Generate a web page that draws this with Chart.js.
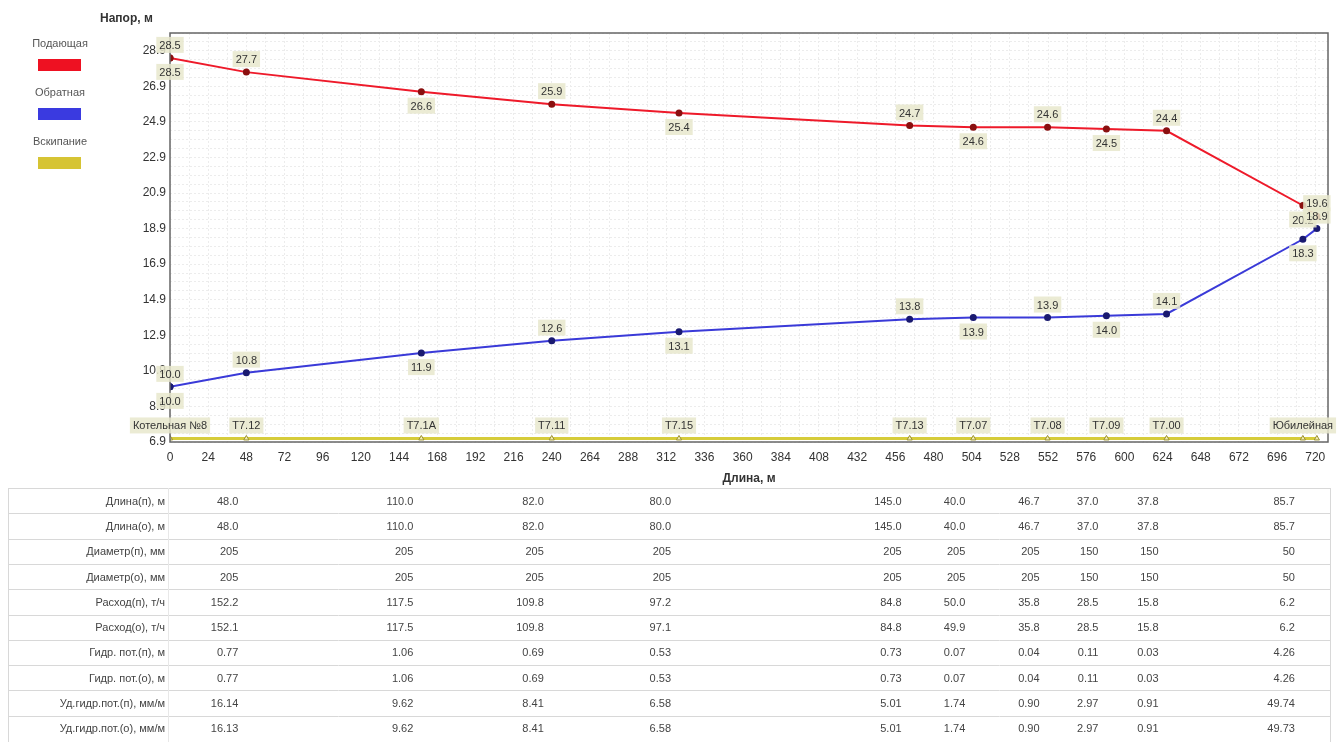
<!DOCTYPE html>
<html>
<head>
<meta charset="utf-8">
<script src="https://cdn.jsdelivr.net/npm/chart.js@4/dist/chart.umd.min.js"></script>
<style>
  body { margin: 0; background: #fff; }
  #wrap { position: relative; width: 1341px; height: 742px; }
  .lg { position: absolute; left: 15px; width: 90px; text-align: center; font: 11px "Liberation Sans", sans-serif; color: #555; }
  .sw { position: absolute; left: 38px; width: 43px; height: 12px; }
  #ytitle { position: absolute; left: 100px; top: 11px; font: bold 12px "Liberation Sans", sans-serif; color: #333; }
</style>
</head>
<body>
<div id="wrap">
  <canvas id="profileChart" width="1341" height="742"></canvas>
  <div id="ytitle">Напор, м</div>
  <div class="lg" style="top:37px">Подающая</div>
  <div class="sw" style="top:59px;background:#ee1122"></div>
  <div class="lg" style="top:86px">Обратная</div>
  <div class="sw" style="top:108px;background:#3a3ae0"></div>
  <div class="lg" style="top:135px">Вскипание</div>
  <div class="sw" style="top:157px;background:#d6c434"></div>
</div>
<script>
// pipe nodes, m (the boiler node appears twice: in and out)
const pointX = [0, 0, 48, 158, 240, 320, 465, 505, 551.7, 588.7, 626.5, 712.2, 721];
const supplyHead = [28.5, 28.5, 27.7, 26.6, 25.9, 25.4, 24.7, 24.6, 24.6, 24.5, 24.4, 20.2, 19.6];
const returnHead = [10.0, 10.0, 10.8, 11.9, 12.6, 13.1, 13.8, 13.9, 13.9, 14.0, 14.1, 18.3, 18.9];

const nodeX = [0, 48, 158, 240, 320, 465, 505, 551.7, 588.7, 626.5, 712.2, 721];
const boilHead = [7.1, 7.1, 7.1, 7.1, 7.1, 7.1, 7.1, 7.1, 7.1, 7.1, 7.1, 7.1];
const nodeNames = ['Котельная №8', 'Т7.12', 'Т7.1А', 'Т7.11', 'Т7.15', 'Т7.13', 'Т7.07', 'Т7.08', 'Т7.09', 'Т7.00', 'Юбилейная'];

const xTicks = [0, 24, 48, 72, 96, 120, 144, 168, 192, 216, 240, 264, 288, 312, 336, 360, 384, 408, 432, 456, 480, 504, 528, 552, 576, 600, 624, 648, 672, 696, 720];
const yTicks = [6.9, 8.9, 10.9, 12.9, 14.9, 16.9, 18.9, 20.9, 22.9, 24.9, 26.9, 28.9];

// table under the chart, one value per pipe segment
const rowNames = ['Длина(п), м', 'Длина(о), м', 'Диаметр(п), мм', 'Диаметр(о), мм', 'Расход(п), т/ч', 'Расход(о), т/ч',
  'Гидр. пот.(п), м', 'Гидр. пот.(о), м', 'Уд.гидр.пот.(п), мм/м', 'Уд.гидр.пот.(о), мм/м'];
const lengthS = ['48.0', '110.0', '82.0', '80.0', '145.0', '40.0', '46.7', '37.0', '37.8', '85.7'];
const lengthR = ['48.0', '110.0', '82.0', '80.0', '145.0', '40.0', '46.7', '37.0', '37.8', '85.7'];
const diamS = ['205', '205', '205', '205', '205', '205', '205', '150', '150', '50'];
const diamR = ['205', '205', '205', '205', '205', '205', '205', '150', '150', '50'];
const flowS = ['152.2', '117.5', '109.8', '97.2', '84.8', '50.0', '35.8', '28.5', '15.8', '6.2'];
const flowR = ['152.1', '117.5', '109.8', '97.1', '84.8', '49.9', '35.8', '28.5', '15.8', '6.2'];
const lossS = ['0.77', '1.06', '0.69', '0.53', '0.73', '0.07', '0.04', '0.11', '0.03', '4.26'];
const lossR = ['0.77', '1.06', '0.69', '0.53', '0.73', '0.07', '0.04', '0.11', '0.03', '4.26'];
const specS = ['16.14', '9.62', '8.41', '6.58', '5.01', '1.74', '0.90', '2.97', '0.91', '49.74'];
const specR = ['16.13', '9.62', '8.41', '6.58', '5.01', '1.74', '0.90', '2.97', '0.91', '49.73'];
const segEnd = [48, 158, 240, 320, 465, 505, 551.7, 588.7, 626.5, 712.2];
const tableRows = [lengthS, lengthR, diamS, diamR, flowS, flowR, lossS, lossR, specS, specR];

// grid lines: every 12 m and every 0.5 m of head
const xGrid = [];
for (let v = 0; v <= 727; v += 12) xGrid.push(v);
const yGrid = [];
for (let v = 6.9; v <= 29.9; v += 0.5) yGrid.push(Math.round(v * 10) / 10);

const FONT = '"Liberation Sans", sans-serif';

const overlay = {
  id: 'overlay',
  afterDatasetsDraw(chart) {
    const ctx = chart.ctx;
    const a = chart.chartArea;
    ctx.save();
    // frame
    ctx.strokeStyle = '#666';
    ctx.lineWidth = 1.5;
    ctx.strokeRect(a.left, a.top, a.right - a.left, a.bottom - a.top);

    ctx.font = '11px ' + FONT;
    ctx.textAlign = 'center';
    ctx.textBaseline = 'middle';
    // value labels, alternating above / below
    [0, 1].forEach(di => {
      const meta = chart.getDatasetMeta(di);
      const vals = chart.data.datasets[di].data;
      meta.data.forEach((pt, i) => {
        const txt = vals[i].y.toFixed(1);
        const w = ctx.measureText(txt).width + 6;
        const cy = i % 2 === 0 ? pt.y - 13 : pt.y + 14;
        ctx.fillStyle = 'rgba(232,232,205,0.85)';
        ctx.fillRect(pt.x - w / 2, cy - 8, w, 16);
        ctx.fillStyle = '#333';
        ctx.fillText(txt, pt.x, cy + 1);
      });
    });
    // node names on the boiling line
    const bm = chart.getDatasetMeta(2);
    nodeNames.forEach((name, i) => {
      const pt = bm.data[i];
      const w = ctx.measureText(name).width + 6;
      const cy = pt.y - 13;
      ctx.fillStyle = 'rgba(232,232,205,0.85)';
      ctx.fillRect(pt.x - w / 2, cy - 8, w, 16);
      ctx.fillStyle = '#333';
      ctx.fillText(name, pt.x, cy + 1);
    });
    ctx.restore();
  },
  afterDraw(chart) {
    const ctx = chart.ctx;
    const xs = chart.scales.x;
    const top = 488, rowH = 25.3, left = 8, right = 1330;
    ctx.save();
    ctx.strokeStyle = '#d8d8d8';
    ctx.lineWidth = 1;
    ctx.strokeRect(left + 0.5, top + 0.5, right - left, 742 - top);
    for (let r = 1; r < rowNames.length; r++) {
      const y = Math.round(top + r * rowH) + 0.5;
      ctx.beginPath(); ctx.moveTo(left, y); ctx.lineTo(right, y); ctx.stroke();
    }
    ctx.strokeStyle = '#e8e8e8';
    ctx.beginPath(); ctx.moveTo(168.5, top); ctx.lineTo(168.5, 742); ctx.stroke();

    ctx.font = '11px ' + FONT;
    ctx.textBaseline = 'middle';
    ctx.fillStyle = '#444';
    rowNames.forEach((name, r) => {
      const cy = top + r * rowH + rowH / 2 + 1;
      ctx.textAlign = 'right';
      ctx.fillText(name, 165, cy);
      tableRows[r].forEach((v, k) => {
        ctx.fillText(v, xs.getPixelForValue(segEnd[k]) - 8, cy);
      });
    });
    ctx.restore();
  }
};

const config = {
  type: 'line',
  data: {
    datasets: [
      {
        label: 'Подающая',
        data: pointX.map((x, i) => ({ x: x, y: supplyHead[i] })),
        borderColor: '#ee1a2a',
        borderWidth: 2,
        pointRadius: 2.5,
        pointBackgroundColor: '#8a1010',
        pointBorderColor: '#8a1010'
      },
      {
        label: 'Обратная',
        data: pointX.map((x, i) => ({ x: x, y: returnHead[i] })),
        borderColor: '#3a3ad8',
        borderWidth: 2,
        pointRadius: 2.5,
        pointBackgroundColor: '#1a1a70',
        pointBorderColor: '#1a1a70'
      },
      {
        label: 'Вскипание',
        data: nodeX.map((x, i) => ({ x: x, y: boilHead[i] })),
        borderColor: '#d6cc3a',
        borderWidth: 3,
        pointStyle: 'triangle',
        pointRadius: 3,
        pointBackgroundColor: '#f4efb0',
        pointBorderColor: '#9a9030',
        pointBorderWidth: 1
      }
    ]
  },
  options: {
    responsive: false,
    animation: false,
    layout: { padding: { left: 100, top: 33, right: 13, bottom: 254 } },
    plugins: {
      legend: { display: false },
      tooltip: { enabled: false }
    },
    scales: {
      x: {
        type: 'linear',
        min: 0,
        max: 728,
        afterBuildTicks: axis => { axis.ticks = xGrid.map(v => ({ value: v })); },
        afterFit: axis => { axis.height = 46; },
        grid: { color: '#ececec', tickLength: 0, drawTicks: false },
        border: { display: false, dash: [2, 2] },
        ticks: {
          autoSkip: false,
          maxRotation: 0,
          padding: 8,
          color: '#333',
          font: { family: FONT, size: 12 },
          callback: v => (xTicks.includes(v) ? String(v) : '')
        },
        title: {
          display: true,
          text: 'Длина, м',
          color: '#333',
          font: { family: FONT, size: 12, weight: 'bold' },
          padding: { top: 2, bottom: 2 }
        }
      },
      y: {
        type: 'linear',
        min: 6.9,
        max: 29.9,
        afterBuildTicks: axis => { axis.ticks = yGrid.map(v => ({ value: v })); },
        afterFit: axis => { axis.width = 70; },
        grid: { color: '#ececec', drawTicks: false },
        border: { display: false, dash: [2, 2] },
        ticks: {
          autoSkip: false,
          padding: 4,
          color: '#333',
          font: { family: FONT, size: 12 },
          callback: v => (yTicks.includes(v) ? v.toFixed(1) : '')
        }
      }
    }
  },
  plugins: [overlay]
};

window.onload = () => {
  const ctx = document.getElementById('profileChart').getContext('2d');
  new Chart(ctx, config);
};
</script>
</body>
</html>
